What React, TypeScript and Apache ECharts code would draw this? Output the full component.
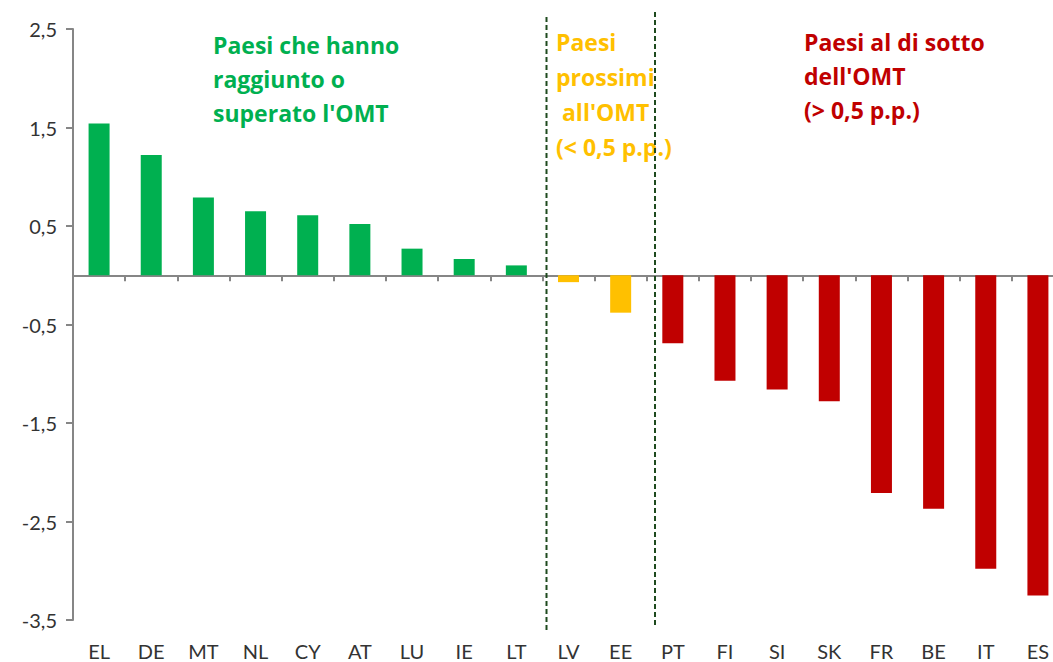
import React, { useEffect, useRef } from "react";
import * as echarts from "echarts";

const categories = ["EL", "DE", "MT", "NL", "CY", "AT", "LU", "IE", "LT", "LV", "EE", "PT", "FI", "SI", "SK", "FR", "BE", "IT", "ES"];
const values = [1.54, 1.22, 0.79, 0.65, 0.61, 0.52, 0.27, 0.165, 0.1, -0.07, -0.38, -0.69, -1.07, -1.16, -1.28, -2.21, -2.37, -2.98, -3.25];
const groups = ["ok", "ok", "ok", "ok", "ok", "ok", "ok", "ok", "ok", "near", "near", "below", "below", "below", "below", "below", "below", "below", "below"];
const yTicks = { min: -3.5, max: 2.5, interval: 1 };
const groupColors: Record<string, string> = { ok: "#00B050", near: "#FFC000", below: "#C00000" };
const annotationOk = "Paesi che hanno\nraggiunto o\nsuperato l'OMT";
const annotationNear = "Paesi\nprossimi\n all'OMT\n(< 0,5 p.p.)";
const annotationBelow = "Paesi al di sotto\ndell'OMT\n(> 0,5 p.p.)";

const FONT = "Lato, 'Open Sans', sans-serif";
const ANNOT_FONT = "'Open Sans', Lato, sans-serif";

export default function App() {
  const ref = useRef<HTMLDivElement>(null);
  useEffect(() => {
    document.body.style.margin = "0";
    document.body.style.overflow = "hidden";
    const chart = echarts.init(ref.current!, null, { renderer: "svg" });
    const axisColor = "#868686";
    const dash = "#1E4A1E";
    chart.setOption({
      animation: false,
      backgroundColor: "#ffffff",
      grid: { left: 73, right: -11, top: 29, bottom: 42, outerBoundsMode: "none" },
      xAxis: [
        {
          type: "category",
          data: categories,
          position: "bottom",
          axisLine: { show: false, onZero: false },
          axisTick: { show: false },
          axisLabel: { fontFamily: FONT, fontSize: 20, color: "#333333", margin: 21 },
        },
        {
          type: "category",
          data: categories,
          position: "top",
          axisLine: { show: true, onZero: true, onZeroAxisIndex: 0, lineStyle: { color: axisColor, width: 2 } },
          axisTick: { show: true, inside: true, length: 6, lineStyle: { color: axisColor, width: 2 } },
          axisLabel: { show: false },
        },
      ],
      yAxis: {
        type: "value",
        min: yTicks.min,
        max: yTicks.max,
        interval: yTicks.interval,
        splitLine: { show: false },
        axisLine: { show: true, onZero: false, lineStyle: { color: axisColor, width: 2 } },
        axisTick: { show: true, length: 7, lineStyle: { color: axisColor, width: 2 } },
        axisLabel: {
          fontFamily: FONT,
          fontSize: 20,
          color: "#333333",
          margin: 16,
          formatter: (v: number) => v.toFixed(1).replace(".", ","),
        },
      },
      series: [
        {
          type: "bar",
          xAxisIndex: 0,
          barWidth: 21,
          data: values.map((v, i) => ({ value: v, itemStyle: { color: groupColors[groups[i]] } })),
        },
      ],
      graphic: [
        {
          type: "line",
          z: 100,
          shape: { x1: 546.5, y1: 17, x2: 546.5, y2: 631 },
          style: { stroke: dash, lineWidth: 2, lineDash: [5, 3] },
        },
        {
          type: "line",
          z: 100,
          shape: { x1: 655, y1: 12, x2: 655, y2: 626 },
          style: { stroke: dash, lineWidth: 2, lineDash: [5, 3] },
        },
        {
          type: "text",
          z: 100,
          x: 213,
          y: 28,
          style: { text: annotationOk, fill: groupColors.ok, font: `bold 23px ${ANNOT_FONT}`, lineHeight: 34 },
        },
        {
          type: "text",
          z: 99,
          x: 556,
          y: 24,
          style: { text: annotationNear, fill: groupColors.near, font: `bold 23px ${ANNOT_FONT}`, lineHeight: 35 },
        },
        {
          type: "text",
          z: 100,
          x: 804,
          y: 25,
          style: { text: annotationBelow, fill: groupColors.below, font: `bold 23px ${ANNOT_FONT}`, lineHeight: 34 },
        },
      ],
    });
    return () => chart.dispose();
  }, []);
  return <div ref={ref} style={{ width: 1053, height: 662 }} />;
}
